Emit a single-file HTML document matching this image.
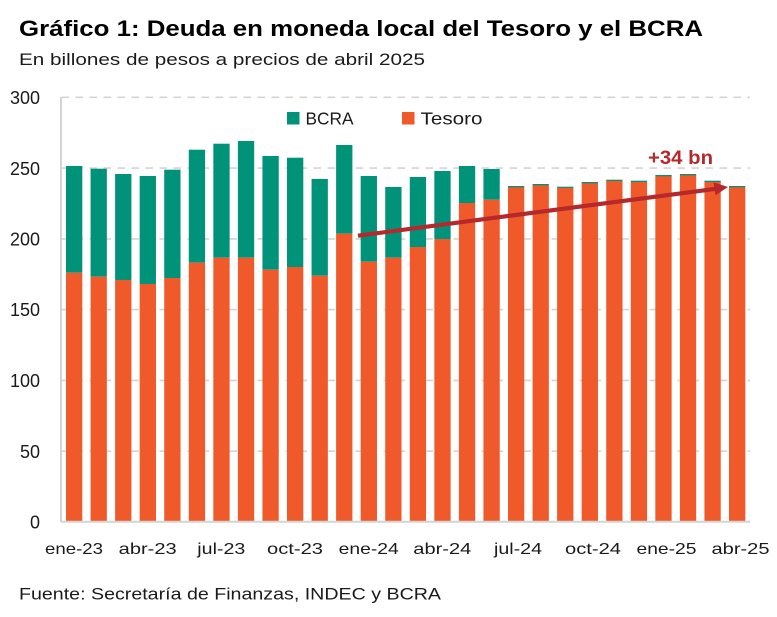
<!DOCTYPE html>
<html>
<head>
<meta charset="utf-8">
<style>
html,body{margin:0;padding:0;background:#fff;}
svg{display:block;}
text{font-family:"Liberation Sans",sans-serif;}
</style>
</head>
<body>
<svg width="777" height="617" viewBox="0 0 777 617" xmlns="http://www.w3.org/2000/svg">
<rect width="777" height="617" fill="#fff"/>
<!-- Title -->
<text x="19" y="36" font-size="22" font-weight="bold" fill="#000" textLength="684" lengthAdjust="spacingAndGlyphs">Gráfico 1: Deuda en moneda local del Tesoro y el BCRA</text>
<text x="19" y="65" font-size="17" fill="#1a1a1a" textLength="406" lengthAdjust="spacingAndGlyphs">En billones de pesos a precios de abril 2025</text>

<!-- gridlines -->
<g stroke="#d4d4d4" stroke-width="1.6" stroke-dasharray="7.5,6.5">
<line x1="61.5" y1="97.3" x2="750" y2="97.3"/>
<line x1="61.5" y1="168.1" x2="750" y2="168.1"/>
<line x1="61.5" y1="238.9" x2="750" y2="238.9"/>
<line x1="61.5" y1="309.6" x2="750" y2="309.6"/>
<line x1="61.5" y1="380.4" x2="750" y2="380.4"/>
<line x1="61.5" y1="451.2" x2="750" y2="451.2"/>
</g>
<line x1="61" y1="97" x2="61" y2="522" stroke="#d4d4d4" stroke-width="2"/>

<!-- y labels -->
<g font-size="18" fill="#1a1a1a" text-anchor="end">
<text x="40" y="104">300</text>
<text x="40" y="175">250</text>
<text x="40" y="245.5">200</text>
<text x="40" y="316">150</text>
<text x="40" y="387">100</text>
<text x="40" y="458">50</text>
<text x="40" y="528.5">0</text>
</g>

<!-- BCRA (green) -->
<g fill="#00937a">
<rect x="66.00" y="166" width="16.3" height="106.7"/>
<rect x="90.56" y="168.7" width="16.3" height="108"/>
<rect x="115.11" y="174" width="16.3" height="106"/>
<rect x="139.67" y="176" width="16.3" height="108"/>
<rect x="164.22" y="169.7" width="16.3" height="108.3"/>
<rect x="188.78" y="149.7" width="16.3" height="113"/>
<rect x="213.33" y="143.7" width="16.3" height="114"/>
<rect x="237.89" y="141" width="16.3" height="116.7"/>
<rect x="262.44" y="156" width="16.3" height="113.7"/>
<rect x="287.00" y="157.7" width="16.3" height="109.3"/>
<rect x="311.56" y="179" width="16.3" height="96.7"/>
<rect x="336.11" y="145" width="16.3" height="88.7"/>
<rect x="360.67" y="176" width="16.3" height="85.7"/>
<rect x="385.22" y="187" width="16.3" height="70.7"/>
<rect x="409.78" y="177" width="16.3" height="70"/>
<rect x="434.33" y="171" width="16.3" height="68"/>
<rect x="458.89" y="166" width="16.3" height="37"/>
<rect x="483.44" y="169" width="16.3" height="30.7"/>
<rect x="508.00" y="186" width="16.3" height="1.5"/>
<rect x="532.56" y="184" width="16.3" height="1.5"/>
<rect x="557.11" y="186.7" width="16.3" height="1.3"/>
<rect x="581.67" y="182" width="16.3" height="1.5"/>
<rect x="606.22" y="179.7" width="16.3" height="1.5"/>
<rect x="630.78" y="180.7" width="16.3" height="1.5"/>
<rect x="655.33" y="175" width="16.3" height="1.5"/>
<rect x="679.89" y="174" width="16.3" height="1.5"/>
<rect x="704.44" y="180.7" width="16.3" height="1.5"/>
<rect x="729.00" y="186" width="16.3" height="1.5"/>
</g>
<!-- Tesoro (orange) -->
<g fill="#f05a2b">
<rect x="66.00" y="272.7" width="16.3" height="248.8"/>
<rect x="90.56" y="276.7" width="16.3" height="244.8"/>
<rect x="115.11" y="280" width="16.3" height="241.5"/>
<rect x="139.67" y="284" width="16.3" height="237.5"/>
<rect x="164.22" y="278" width="16.3" height="243.5"/>
<rect x="188.78" y="262.7" width="16.3" height="258.8"/>
<rect x="213.33" y="257.7" width="16.3" height="263.8"/>
<rect x="237.89" y="257.7" width="16.3" height="263.8"/>
<rect x="262.44" y="269.7" width="16.3" height="251.8"/>
<rect x="287.00" y="267" width="16.3" height="254.5"/>
<rect x="311.56" y="275.7" width="16.3" height="245.8"/>
<rect x="336.11" y="233.7" width="16.3" height="287.8"/>
<rect x="360.67" y="261.7" width="16.3" height="259.8"/>
<rect x="385.22" y="257.7" width="16.3" height="263.8"/>
<rect x="409.78" y="247" width="16.3" height="274.5"/>
<rect x="434.33" y="239" width="16.3" height="282.5"/>
<rect x="458.89" y="203" width="16.3" height="318.5"/>
<rect x="483.44" y="199.7" width="16.3" height="321.8"/>
<rect x="508.00" y="187.3" width="16.3" height="334.2"/>
<rect x="532.56" y="185.3" width="16.3" height="336.2"/>
<rect x="557.11" y="187.8" width="16.3" height="333.7"/>
<rect x="581.67" y="183.3" width="16.3" height="338.2"/>
<rect x="606.22" y="181" width="16.3" height="340.5"/>
<rect x="630.78" y="182" width="16.3" height="339.5"/>
<rect x="655.33" y="176.3" width="16.3" height="345.2"/>
<rect x="679.89" y="175.3" width="16.3" height="346.2"/>
<rect x="704.44" y="182" width="16.3" height="339.5"/>
<rect x="729.00" y="187.3" width="16.3" height="334.2"/>
</g>

<!-- x axis -->
<line x1="61" y1="521.8" x2="750" y2="521.8" stroke="#d4d4d4" stroke-width="2"/>

<!-- legend -->
<rect x="287" y="112" width="12.5" height="12.5" fill="#00937a"/>
<text x="305.5" y="124.5" font-size="17.5" fill="#1a1a1a" textLength="48" lengthAdjust="spacingAndGlyphs">BCRA</text>
<rect x="402" y="112" width="12.5" height="12.5" fill="#f05a2b"/>
<text x="420.5" y="124.5" font-size="17.5" fill="#1a1a1a" textLength="62" lengthAdjust="spacingAndGlyphs">Tesoro</text>

<!-- arrow -->
<line x1="358" y1="235.7" x2="716" y2="188.8" stroke="#b5282c" stroke-width="4.2"/>
<polygon points="728,187 713.5,182.2 715.5,195.2" fill="#b5282c"/>
<text x="648" y="164" font-size="19" font-weight="bold" fill="#b5282c" textLength="65" lengthAdjust="spacingAndGlyphs">+34 bn</text>

<!-- x labels -->
<g font-size="16" fill="#1a1a1a" text-anchor="middle">
<text x="74" y="554" textLength="58" lengthAdjust="spacingAndGlyphs">ene-23</text>
<text x="147.7" y="554" textLength="58" lengthAdjust="spacingAndGlyphs">abr-23</text>
<text x="221.3" y="554" textLength="48" lengthAdjust="spacingAndGlyphs">jul-23</text>
<text x="295" y="554" textLength="56" lengthAdjust="spacingAndGlyphs">oct-23</text>
<text x="368.7" y="554" textLength="60" lengthAdjust="spacingAndGlyphs">ene-24</text>
<text x="442.3" y="554" textLength="58" lengthAdjust="spacingAndGlyphs">abr-24</text>
<text x="518" y="554" textLength="48" lengthAdjust="spacingAndGlyphs">jul-24</text>
<text x="593" y="554" textLength="56" lengthAdjust="spacingAndGlyphs">oct-24</text>
<text x="666.5" y="554" textLength="60" lengthAdjust="spacingAndGlyphs">ene-25</text>
<text x="740.5" y="554" textLength="58" lengthAdjust="spacingAndGlyphs">abr-25</text>
</g>

<!-- footer -->
<text x="19" y="599.5" font-size="17" fill="#1a1a1a" textLength="422" lengthAdjust="spacingAndGlyphs">Fuente: Secretaría de Finanzas, INDEC y BCRA</text>
</svg>
</body>
</html>
